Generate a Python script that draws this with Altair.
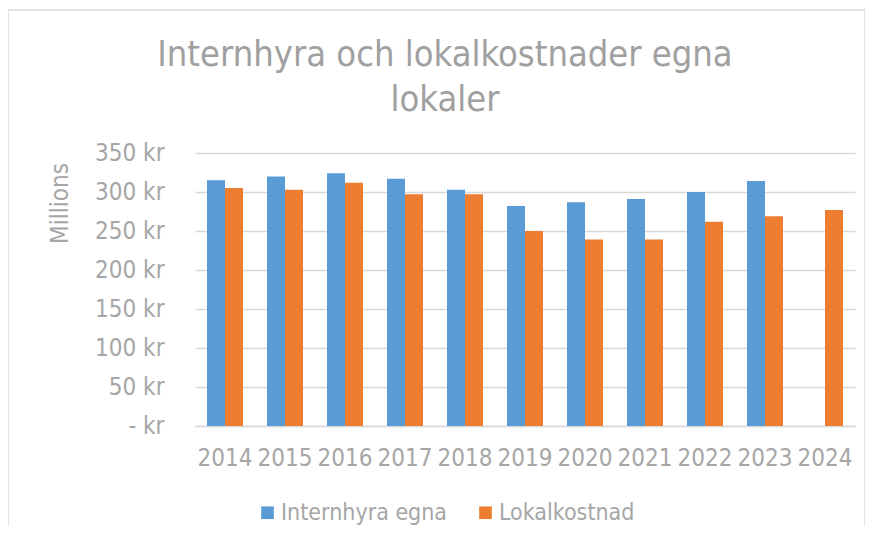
import altair as alt
import pandas as pd

years = ["2014", "2015", "2016", "2017", "2018", "2019", "2020", "2021", "2022", "2023", "2024"]
internhyra = [315, 320, 324, 317, 303, 282, 287, 291, 300, 314, None]
lokalkostnad = [305, 303, 312, 297, 297, 250, 239, 239, 262, 269, 277]
series = ["Internhyra egna", "Lokalkostnad"]
colors = ["#5b9bd5", "#ed7d31"]
y_ticks = [0, 50, 100, 150, 200, 250, 300, 350]

rows = []
for y, a, b in zip(years, internhyra, lokalkostnad):
    if a is not None:
        rows.append({"year": y, "series": series[0], "value": a})
    if b is not None:
        rows.append({"year": y, "series": series[1], "value": b})
df = pd.DataFrame(rows)

FONT = "DejaVu Sans Condensed, DejaVu Sans, sans-serif"
GRAY = "#a6a6a6"

bars = alt.Chart(df).mark_bar().encode(
    x=alt.X("year:N", sort=years,
            scale=alt.Scale(domain=years, paddingInner=0.4, paddingOuter=0.2),
            axis=alt.Axis(title=None, labelAngle=0, labelFontSize=24, labelColor=GRAY,
                          labelFont=FONT, labelPadding=20, ticks=False,
                          domainColor="#d9d9d9", domainWidth=1.5, grid=False)),
    xOffset=alt.XOffset("series:N", scale=alt.Scale(domain=series, paddingInner=0, paddingOuter=0)),
    y=alt.Y("value:Q", scale=alt.Scale(domain=[0, 350]),
            axis=alt.Axis(values=y_ticks, title="Millions", titleFontSize=24,
                          titleFontWeight="normal", titleColor=GRAY, titleFont=FONT,
                          titleAngle=-90, titleX=-135, titleY=50, titleAlign="center",
                          titleBaseline="middle",
                          labelExpr="datum.value == 0 ? '- kr' : datum.value + ' kr'",
                          labelFontSize=24, labelColor=GRAY, labelFont=FONT,
                          labelPadding=31, ticks=False, domain=False,
                          gridColor="#d9d9d9", gridWidth=1.5)),
    color=alt.Color("series:N", scale=alt.Scale(domain=series, range=colors),
                    legend=alt.Legend(title=None, orient="none", direction="horizontal",
                                      legendX=61, legendY=348, symbolType="square",
                                      symbolSize=160, symbolStrokeWidth=0,
                                      labelFontSize=23, labelColor=GRAY, labelFont=FONT,
                                      labelLimit=400, columnPadding=26, padding=0,
                                      labelOffset=2)),
)

border = alt.Chart(alt.Data(values=[{}])).mark_rect(
    fill=None, stroke="#d9d9d9", strokeWidth=1.5
).encode(
    x=alt.value(-187), x2=alt.value(670), y=alt.value(-143), y2=alt.value(420)
)

chart = alt.layer(border, bars).properties(
    width=660, height=273,
    autosize=alt.AutoSizeParams(type="none"),
    padding={"left": 187, "top": 145, "right": 10, "bottom": 100},
    title=alt.TitleParams(
        text=["Internhyra och lokalkostnader egna", "lokaler"],
        fontSize=36, font=FONT, fontWeight="normal", color="#a0a0a0",
        anchor="middle", dx=-80, offset=0, dy=110, lineHeight=45,
    ),
).configure_view(stroke=None)

chart.save("out.html", embed_options={"renderer": "svg", "actions": False})
